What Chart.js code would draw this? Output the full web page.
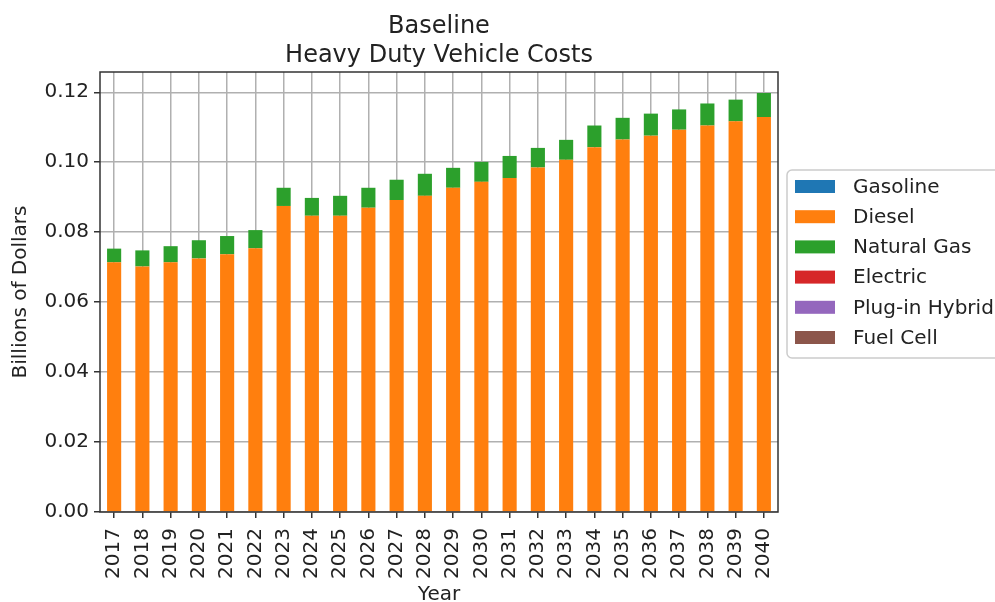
<!DOCTYPE html>
<html>
<head>
<meta charset="utf-8">
<script src="https://cdn.jsdelivr.net/npm/chart.js@4"></script>
<style>
  html, body { margin: 0; padding: 0; background: #fff; }
  #wrap { width: 995px; height: 602px; }
</style>
</head>
<body>
<div id="wrap"><canvas id="costChart" width="995" height="602"></canvas></div>
<script>
// data (billions of dollars)
const years = ['2017', '2018', '2019', '2020', '2021', '2022', '2023', '2024', '2025', '2026', '2027', '2028',
               '2029', '2030', '2031', '2032', '2033', '2034', '2035', '2036', '2037', '2038', '2039', '2040'];
const gasoline = [0, 0, 0, 0, 0, 0, 0, 0, 0, 0, 0, 0, 0, 0, 0, 0, 0, 0, 0, 0, 0, 0, 0, 0];
const diesel = [0.0714, 0.0702, 0.0714, 0.0725, 0.0737, 0.0754, 0.0875, 0.0847, 0.0847, 0.0870, 0.0892, 0.0904,
                0.0927, 0.0944, 0.0955, 0.0985, 0.1007, 0.1043, 0.1065, 0.1076, 0.1093, 0.1105, 0.1117, 0.1129];
const naturalGas = [0.0039, 0.0046, 0.0046, 0.0052, 0.0052, 0.0052, 0.0052, 0.0051, 0.0057, 0.0057, 0.0058, 0.0063,
                    0.0057, 0.0057, 0.0063, 0.0056, 0.0057, 0.0062, 0.0062, 0.0063, 0.0058, 0.0063, 0.0062, 0.0069];
const electric = [0, 0, 0, 0, 0, 0, 0, 0, 0, 0, 0, 0, 0, 0, 0, 0, 0, 0, 0, 0, 0, 0, 0, 0];
const plugInHybrid = [0, 0, 0, 0, 0, 0, 0, 0, 0, 0, 0, 0, 0, 0, 0, 0, 0, 0, 0, 0, 0, 0, 0, 0];
const fuelCell = [0, 0, 0, 0, 0, 0, 0, 0, 0, 0, 0, 0, 0, 0, 0, 0, 0, 0, 0, 0, 0, 0, 0, 0];
const yTicks = [0, 0.02, 0.04, 0.06, 0.08, 0.10, 0.12];

const FONT = "'DejaVu Sans', sans-serif";
const TEXT = '#222';

// frame, two-line title and boxed legend like matplotlib
const decor = {
    id: 'decor',
    afterDraw(chart) {
        const ctx = chart.ctx;
        const a = chart.chartArea;
        ctx.save();

        // spines
        ctx.strokeStyle = '#333';
        ctx.lineWidth = 1.5;
        ctx.strokeRect(a.left, a.top, a.right - a.left, a.bottom - a.top);

        // title
        ctx.fillStyle = TEXT;
        ctx.font = '24px ' + FONT;
        ctx.textAlign = 'center';
        ctx.textBaseline = 'alphabetic';
        const cx = (a.left + a.right) / 2;
        ctx.fillText('Baseline', cx, 33);
        ctx.fillText('Heavy Duty Vehicle Costs', cx, 62);

        // legend
        const lx = 787, ly = 170, lh = 188;
        ctx.beginPath();
        ctx.roundRect(lx, ly, 240, lh, 5);
        ctx.fillStyle = 'rgba(255,255,255,0.9)';
        ctx.fill();
        ctx.strokeStyle = '#cccccc';
        ctx.lineWidth = 1.5;
        ctx.stroke();

        ctx.font = '20px ' + FONT;
        ctx.textAlign = 'left';
        ctx.textBaseline = 'middle';
        chart.data.datasets.forEach((ds, i) => {
            const y = 186.5 + i * 30.2;
            ctx.fillStyle = ds.backgroundColor;
            ctx.fillRect(795, y - 6.5, 40, 13);
            ctx.fillStyle = TEXT;
            ctx.fillText(ds.label, 853, y + 1);
        });
        ctx.restore();
    }
};

new Chart(document.getElementById('costChart').getContext('2d'), {
    type: 'bar',
    data: {
        labels: years,
        datasets: [
            { label: 'Gasoline', data: gasoline, backgroundColor: '#1f77b4' },
            { label: 'Diesel', data: diesel, backgroundColor: '#ff7f0e' },
            { label: 'Natural Gas', data: naturalGas, backgroundColor: '#2ca02c' },
            { label: 'Electric', data: electric, backgroundColor: '#d62728' },
            { label: 'Plug-in Hybrid', data: plugInHybrid, backgroundColor: '#9467bd' },
            { label: 'Fuel Cell', data: fuelCell, backgroundColor: '#8c564b' },
        ],
    },
    options: {
        responsive: false,
        animation: false,
        layout: { padding: { top: 72, right: 217, left: 0, bottom: 0 } },
        datasets: { bar: { categoryPercentage: 1, barPercentage: 0.5, borderWidth: 0 } },
        plugins: {
            legend: { display: false },
            title: { display: false },
            tooltip: { enabled: false },
        },
        scales: {
            x: {
                stacked: true,
                afterFit: (s) => { s.height = 90; },
                grid: { offset: false, color: '#b0b0b0', lineWidth: 1.5, tickColor: '#333', tickLength: 6 },
                border: { display: false },
                ticks: { color: TEXT, font: { family: FONT, size: 20 }, minRotation: 90, maxRotation: 90, padding: 10, autoSkip: false },
                title: { display: true, text: 'Year', color: TEXT, font: { family: FONT, size: 20 }, padding: { top: 0, bottom: -5 } },
            },
            y: {
                stacked: true,
                min: 0,
                max: 0.1258,
                afterFit: (s) => { s.width = 100; },
                afterBuildTicks: (s) => { s.ticks = yTicks.map(v => ({ value: v })); },
                grid: { color: '#b0b0b0', lineWidth: 1.5, tickColor: '#333', tickLength: 6 },
                border: { display: false },
                ticks: { color: TEXT, font: { family: FONT, size: 20 }, padding: 5, callback: (v) => Number(v).toFixed(2) },
                title: { display: true, text: 'Billions of Dollars', color: TEXT, font: { family: FONT, size: 20 }, padding: { top: 9, bottom: 0 } },
            },
        },
    },
    plugins: [decor],
});
</script>
</body>
</html>
